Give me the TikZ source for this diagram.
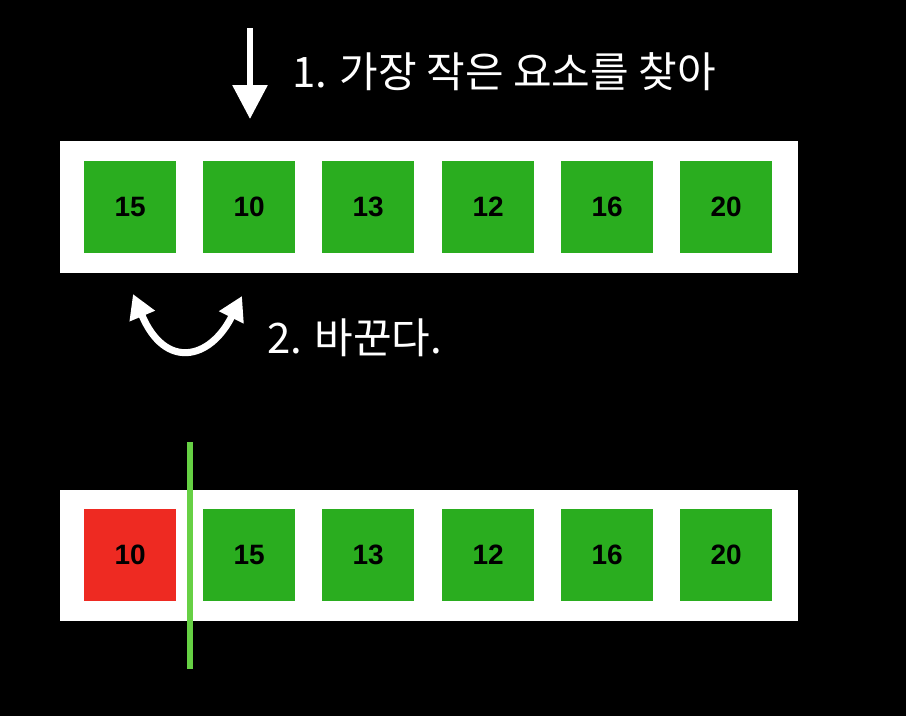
\documentclass[tikz,border=0pt]{standalone}
\usepackage{fontspec}
\setmainfont{Liberation Sans}
\newfontfamily\kr{Noto Sans CJK KR}
\usetikzlibrary{arrows.meta}
\definecolor{boxgreen}{RGB}{42,173,31}
\definecolor{boxred}{RGB}{238,42,34}
\definecolor{linegreen}{RGB}{102,208,68}
\begin{document}
\begin{tikzpicture}[x=1pt,y=-1pt,
  bar/.style={fill=white,draw=none},
  cell/.style={minimum width=92pt,minimum height=92pt,inner sep=0pt,anchor=north west,font=\fontsize{28}{32}\selectfont\bfseries,text=black},
  gcell/.style={cell,fill=boxgreen},
  rcell/.style={cell,fill=boxred},
  label/.style={text=white,anchor=west,inner sep=0pt,font=\kr\fontsize{42}{48}\selectfont}]
\fill[black] (0,0) rectangle (906,716);
\useasboundingbox (0,0) rectangle (906,716);
% top bar
\fill[white] (60,141) rectangle (798,273);
\node[gcell] (a1) at (84,161) {15};
\node[gcell] (a2) at (203,161) {10};
\node[gcell] (a3) at (322,161) {13};
\node[gcell] (a4) at (442,161) {12};
\node[gcell] (a5) at (561,161) {16};
\node[gcell] (a6) at (680,161) {20};
% bottom bar
\fill[white] (60,490) rectangle (798,621);
\node[rcell] (b1) at (84,509) {10};
\node[gcell] (b2) at (203,509) {15};
\node[gcell] (b3) at (322,509) {13};
\node[gcell] (b4) at (442,509) {12};
\node[gcell] (b5) at (561,509) {16};
\node[gcell] (b6) at (680,509) {20};
% divider
\coordinate (dtop) at (190,442);
\coordinate (dbot) at (190,669);
\draw[linegreen,line width=6pt] (dtop) -- (dbot);
% down arrow
\coordinate (atop) at (250,28);
\coordinate (atip) at (250,119);
\draw[white,line width=6pt,-{Triangle[width=34pt,length=34pt]}] (atop) -- (atip);
\node[label] (t1) at (292,72) {1. 가장 작은 요소를 찾아};
% swap arrow
\coordinate (sl) at (133,294);
\coordinate (sr) at (242,296);
\draw[white,line width=7pt,{Triangle[width=26pt,length=24pt]}-{Triangle[width=26pt,length=24pt]}] (sl) .. controls (165,370) and (210,360) .. (sr);
\node[label] (t2) at (267,338) {2. 바꾼다.};
\end{tikzpicture}
\end{document}
